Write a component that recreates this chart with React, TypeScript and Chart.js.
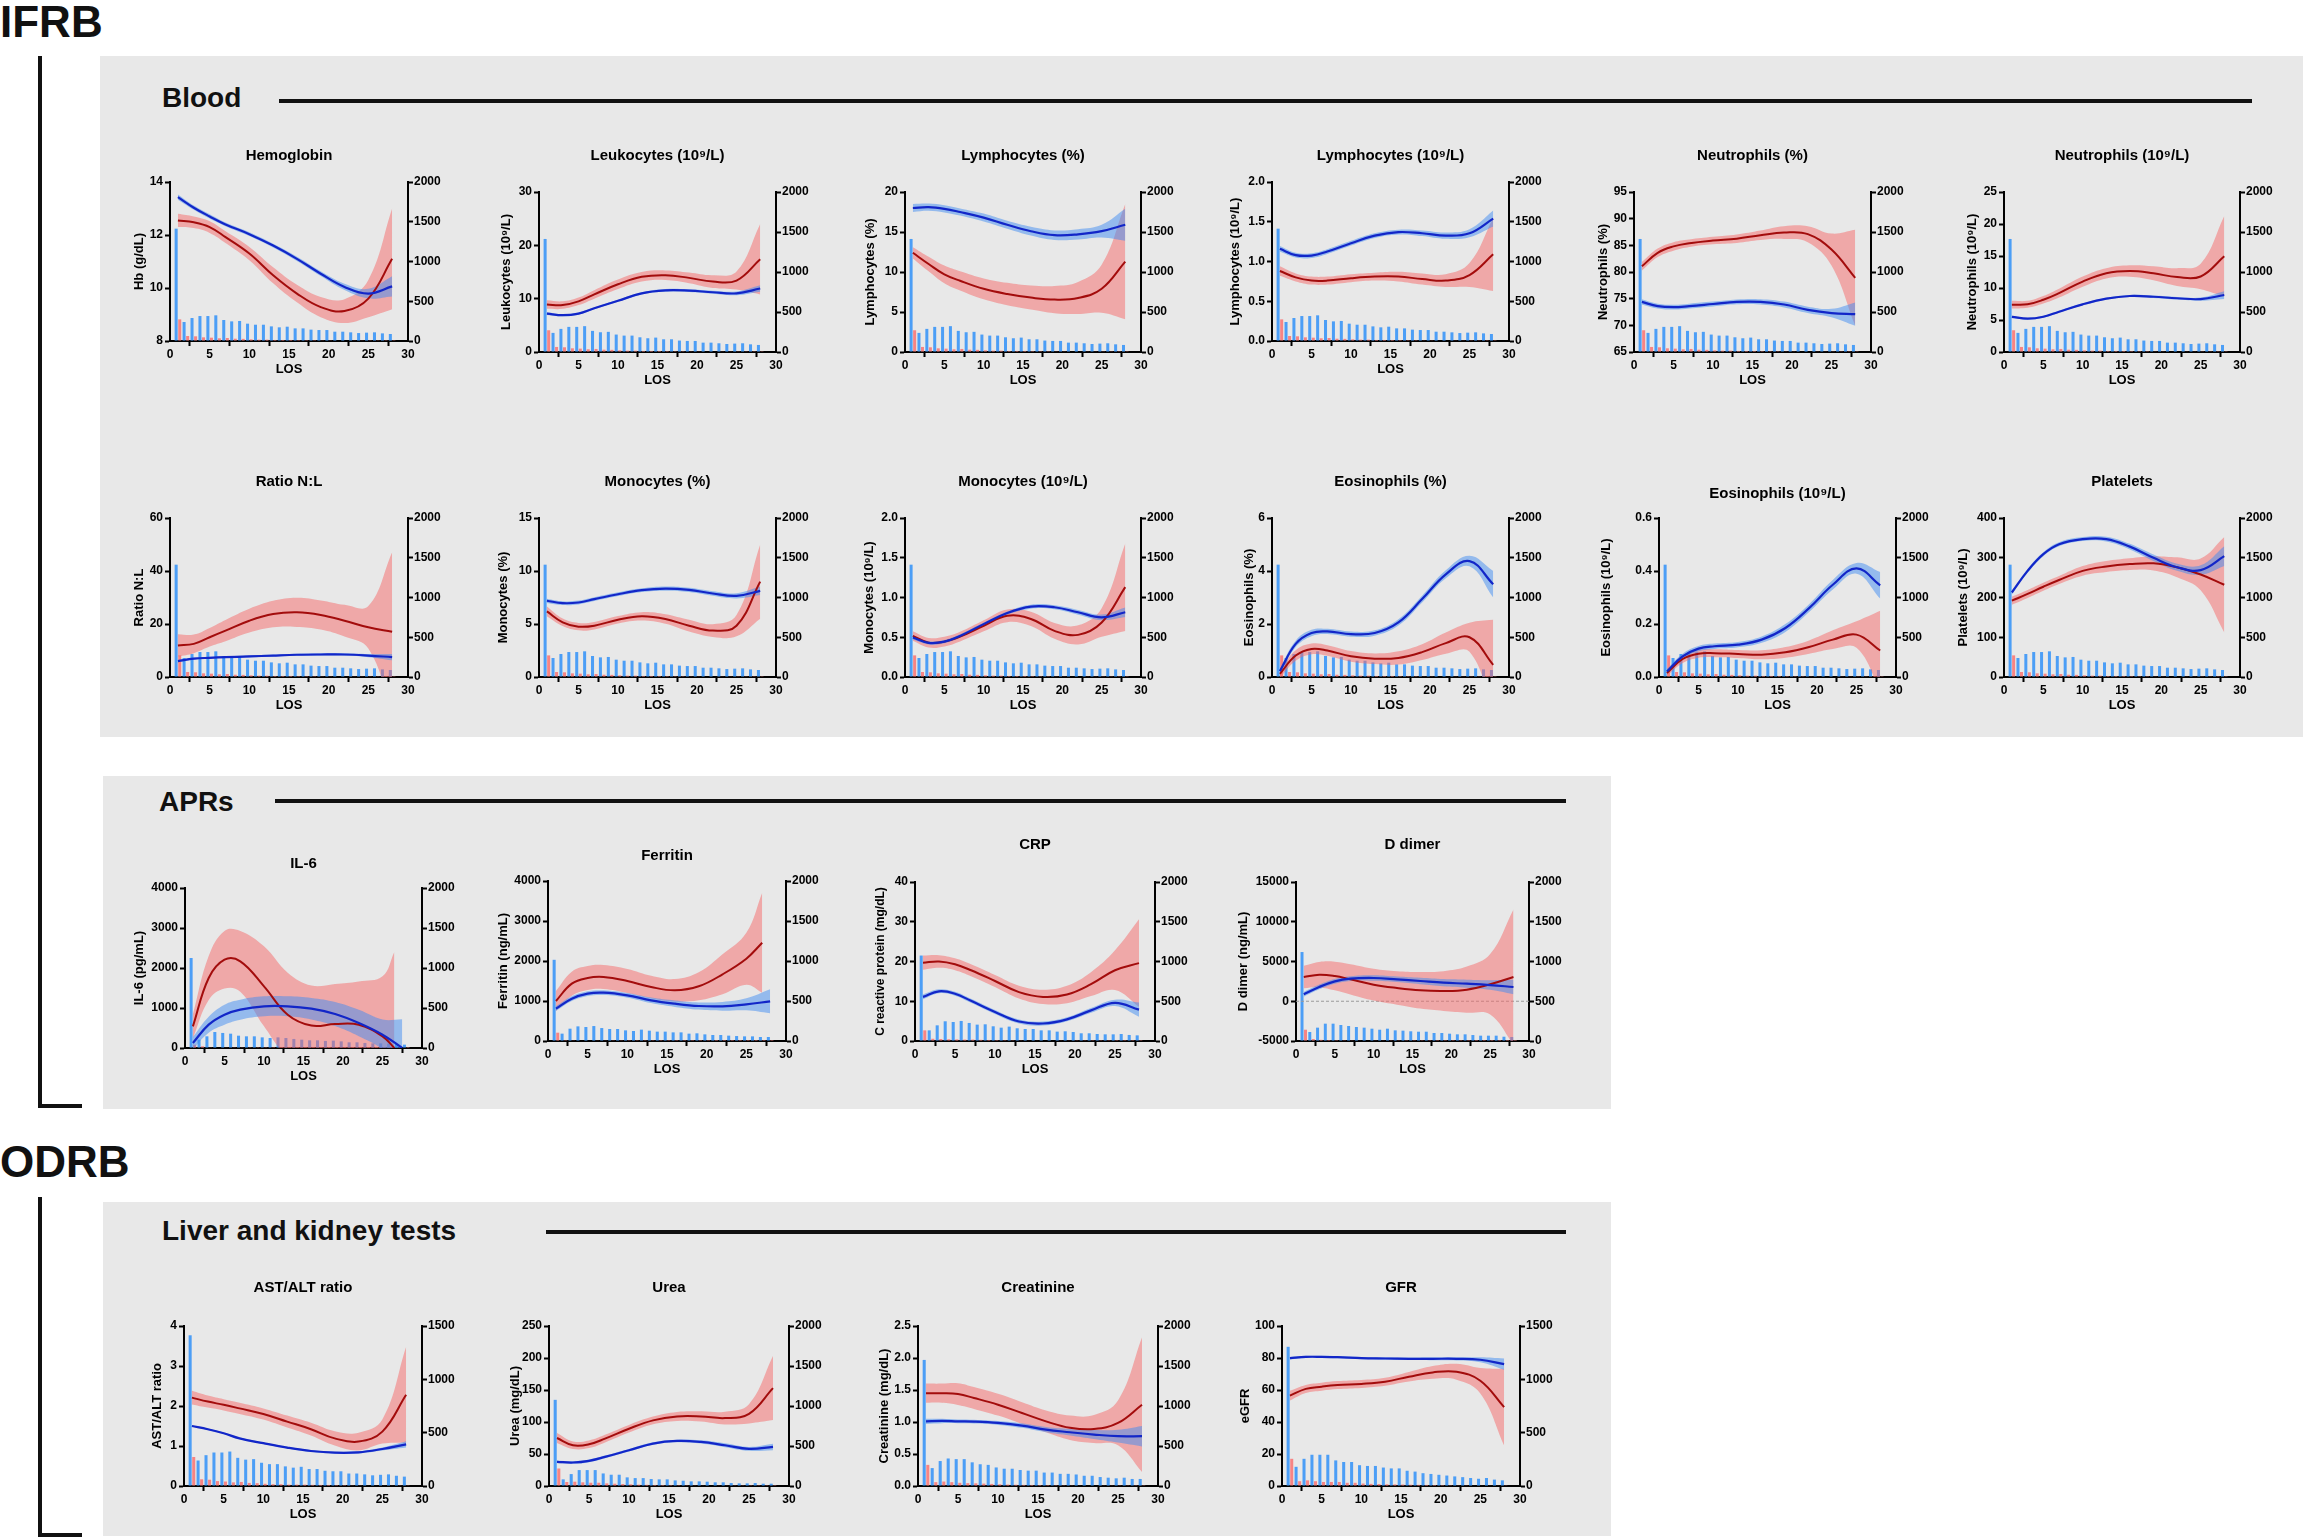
import { useEffect, useRef } from 'react'
import { Chart, registerables } from 'chart.js'

Chart.register(...registerables)

Chart.defaults.font.family = "'Liberation Sans', Arial, sans-serif"
Chart.defaults.font.weight = 'bold'
Chart.defaults.color = '#000'

// days of stay
const DAYS = [1, 3, 5, 7, 10, 13, 16, 19, 22, 25, 28]
const BAR_DAYS = [1, 2, 3, 4, 5, 6, 7, 8, 9, 10, 11, 12, 13, 14, 15, 16, 17, 18, 19, 20, 21, 22, 23, 24, 25, 26, 27, 28]
const IL6_RED_DAYS = [1, 3, 5, 7, 10, 13, 16, 19, 22, 25, 26.5]
const IL6_BLUE_DAYS = [1, 3, 5, 7, 10, 13, 16, 19, 22, 25, 27.5]
const FER_RED_DAYS = [1, 3, 5, 7, 10, 13, 16, 19, 22, 25, 27]

// patient counts per day (right axis)
const BLOOD_BLUE_N = [1413, 239, 289, 314, 314, 323, 264, 247, 252, 218, 205, 205, 184, 172, 180, 159, 159, 143, 138, 138, 117, 117, 109, 100, 105, 109, 96, 88]
const BLOOD_RED_N = [272, 63, 59, 46, 42, 34, 38, 29, 27, 21, 17, 17, 13, 13, 13, 11, 10, 10, 8, 8, 6, 6, 5, 5, 4, 4, 3, 3]
const IL6_BLUE_N = [1125, 104, 146, 200, 188, 179, 154, 146, 146, 133, 125, 133, 125, 113, 104, 96, 96, 88, 92, 83, 71, 71, 63, 58, 58, 55, 50, 42]
const IL6_RED_N = [42, 21, 8, 6, 5, 4, 4, 3, 3, 3, 2, 2, 2, 2, 2, 2, 2, 1, 1, 1, 1, 1, 1, 1, 1, 1, 1, 1]
const FER_BLUE_N = [1015, 92, 154, 183, 175, 187, 162, 150, 150, 133, 125, 142, 129, 117, 117, 108, 108, 92, 96, 83, 75, 75, 67, 62, 58, 58, 50, 50]
const FER_RED_N = [104, 10, 8, 6, 6, 5, 5, 4, 4, 3, 3, 3, 3, 2, 2, 2, 2, 2, 2, 2, 1, 1, 1, 1, 1, 1, 1, 1]
const CRP_BLUE_N = [1075, 134, 197, 248, 239, 252, 227, 206, 210, 185, 168, 181, 160, 151, 151, 134, 134, 118, 122, 113, 97, 97, 88, 84, 84, 88, 76, 71]
const CRP_RED_N = [134, 28, 25, 22, 20, 18, 18, 15, 13, 11, 10, 9, 8, 7, 7, 6, 6, 5, 5, 4, 4, 3, 3, 3, 2, 2, 2, 2]
const DDIM_BLUE_N = [1119, 113, 168, 218, 218, 201, 189, 176, 168, 155, 142, 155, 134, 130, 122, 117, 117, 101, 101, 92, 84, 84, 75, 67, 67, 67, 54, 50]
const DDIM_RED_N = [142, 25, 15, 12, 10, 9, 8, 7, 6, 5, 5, 4, 4, 3, 3, 3, 3, 2, 2, 2, 2, 2, 1, 1, 1, 1, 1, 1]
const UREA_BLUE_N = [1077, 83, 149, 199, 199, 199, 157, 141, 141, 108, 99, 99, 87, 83, 83, 70, 66, 58, 58, 54, 46, 46, 37, 33, 33, 37, 29, 29]
const UREA_RED_N = [219, 50, 54, 46, 41, 41, 33, 29, 25, 21, 17, 15, 13, 12, 11, 10, 9, 8, 7, 6, 5, 5, 4, 4, 3, 3, 3, 2]
const CREA_BLUE_N = [1576, 224, 312, 344, 336, 336, 296, 272, 264, 232, 216, 216, 200, 192, 192, 168, 168, 152, 152, 144, 128, 128, 112, 104, 96, 104, 88, 88]
const CREA_RED_N = [264, 48, 56, 48, 40, 36, 34, 30, 26, 22, 18, 16, 14, 13, 12, 11, 10, 9, 8, 7, 6, 6, 5, 5, 4, 4, 3, 3]
const GFR_BLUE_N = [1305, 180, 255, 293, 293, 293, 240, 225, 225, 195, 188, 188, 173, 165, 165, 143, 135, 120, 113, 105, 98, 90, 83, 75, 68, 75, 60, 53]
const GFR_RED_N = [255, 45, 53, 45, 38, 38, 38, 30, 30, 23, 20, 18, 16, 15, 14, 12, 11, 10, 9, 8, 7, 6, 6, 5, 5, 4, 4, 3]

// fitted curves (mean) and half-width of the confidence band
const HB_RED = [12.55, 12.48, 12.3, 11.92, 11.3, 10.48, 9.79, 9.28, 9.13, 9.6, 11.1]
const HB_RED_CI = [0.25, 0.22, 0.22, 0.22, 0.25, 0.3, 0.33, 0.38, 0.45, 0.7, 1.9]
const HB_BLUE = [13.43, 13.03, 12.7, 12.4, 12.03, 11.6, 11.1, 10.54, 10.04, 9.79, 10.06]
const HB_BLUE_CI = [0.1, 0.08, 0.08, 0.07, 0.07, 0.07, 0.08, 0.09, 0.12, 0.18, 0.38]

const LEUK_RED = [8.9, 8.8, 9.5, 10.8, 12.7, 14.1, 14.4, 13.9, 13.2, 13.4, 17.4]
const LEUK_RED_CI = [0.8, 0.7, 0.7, 0.8, 0.9, 0.9, 0.9, 1.0, 1.2, 1.7, 6.6]
const LEUK_BLUE = [7.2, 6.9, 7.2, 8.2, 9.6, 11.0, 11.55, 11.5, 11.2, 11.0, 11.9]
const LEUK_BLUE_CI = [0.25, 0.2, 0.2, 0.2, 0.2, 0.2, 0.25, 0.25, 0.3, 0.35, 0.6]

const LYMP_RED = [12.4, 11.0, 9.7, 8.9, 7.9, 7.25, 6.8, 6.55, 6.75, 7.9, 11.3]
const LYMP_RED_CI = [0.7, 0.9, 1.1, 1.2, 1.3, 1.4, 1.5, 1.7, 2.0, 3.0, 7.2]
const LYMP_BLUE = [18.0, 18.1, 17.9, 17.5, 16.8, 15.9, 15.1, 14.6, 14.7, 15.1, 15.9]
const LYMP_BLUE_CI = [0.5, 0.45, 0.45, 0.45, 0.5, 0.5, 0.55, 0.6, 0.65, 0.8, 2.0]

const LYMC_RED = [0.88, 0.8, 0.76, 0.76, 0.79, 0.81, 0.81, 0.78, 0.76, 0.83, 1.09]
const LYMC_RED_CI = [0.06, 0.05, 0.05, 0.05, 0.05, 0.05, 0.06, 0.07, 0.08, 0.15, 0.46]
const LYMC_BLUE = [1.16, 1.08, 1.075, 1.125, 1.23, 1.325, 1.37, 1.355, 1.325, 1.355, 1.54]
const LYMC_BLUE_CI = [0.035, 0.03, 0.03, 0.03, 0.03, 0.03, 0.03, 0.035, 0.04, 0.05, 0.1]

const NEUP_RED = [81.06, 83.6, 84.8, 85.4, 85.9, 86.25, 86.9, 87.4, 87.1, 84.2, 78.9]
const NEUP_RED_CI = [0.8, 0.8, 0.8, 0.7, 0.7, 0.8, 0.9, 1.2, 1.5, 3.0, 9.0]
const NEUP_BLUE = [74.4, 73.6, 73.4, 73.6, 74.0, 74.4, 74.4, 73.9, 72.9, 72.3, 72.1]
const NEUP_BLUE_CI = [0.5, 0.45, 0.45, 0.45, 0.45, 0.45, 0.5, 0.55, 0.6, 0.8, 2.2]

const NEUC_RED = [7.39, 7.45, 8.16, 9.2, 11.0, 12.3, 12.65, 12.3, 11.7, 11.8, 14.95]
const NEUC_RED_CI = [0.6, 0.55, 0.6, 0.7, 0.8, 0.8, 0.9, 1.1, 1.4, 2.0, 6.3]
const NEUC_BLUE = [5.5, 5.2, 5.5, 6.3, 7.45, 8.33, 8.75, 8.63, 8.4, 8.27, 8.9]
const NEUC_BLUE_CI = [0.18, 0.15, 0.15, 0.15, 0.15, 0.15, 0.17, 0.18, 0.2, 0.25, 0.6]

const RNL_RED = [11.9, 12.5, 15.0, 17.5, 21.25, 23.75, 24.4, 23.4, 21.25, 18.75, 17.1]
const RNL_RED_CI = [4.2, 3.5, 3.5, 4.0, 4.5, 5.0, 5.5, 5.5, 6.0, 8.0, 30]
const RNL_BLUE = [6.0, 6.9, 7.25, 7.5, 7.75, 8.1, 8.4, 8.5, 8.5, 8.1, 7.5]
const RNL_BLUE_CI = [0.4, 0.35, 0.35, 0.35, 0.35, 0.35, 0.4, 0.45, 0.5, 0.6, 1.2]

const MONP_RED = [6.19, 5.16, 4.75, 4.84, 5.4, 5.72, 5.47, 4.84, 4.38, 4.84, 9.0]
const MONP_RED_CI = [0.45, 0.35, 0.35, 0.35, 0.35, 0.4, 0.45, 0.55, 0.6, 1.0, 3.5]
const MONP_BLUE = [7.19, 6.97, 7.03, 7.34, 7.81, 8.19, 8.34, 8.22, 7.88, 7.66, 8.13]
const MONP_BLUE_CI = [0.2, 0.18, 0.18, 0.18, 0.18, 0.18, 0.2, 0.2, 0.22, 0.25, 0.4]

const MONC_RED = [0.517, 0.432, 0.445, 0.508, 0.644, 0.77, 0.73, 0.58, 0.53, 0.686, 1.13]
const MONC_RED_CI = [0.06, 0.06, 0.06, 0.06, 0.07, 0.08, 0.09, 0.1, 0.12, 0.18, 0.55]
const MONC_BLUE = [0.496, 0.43, 0.445, 0.517, 0.665, 0.805, 0.885, 0.877, 0.814, 0.75, 0.814]
const MONC_BLUE_CI = [0.025, 0.02, 0.02, 0.02, 0.02, 0.02, 0.025, 0.025, 0.03, 0.035, 0.06]

const EOSP_RED = [0.12, 0.81, 1.06, 1.0, 0.78, 0.69, 0.72, 0.94, 1.28, 1.5, 0.46]
const EOSP_RED_CI = [0.15, 0.2, 0.2, 0.2, 0.2, 0.2, 0.25, 0.3, 0.4, 0.55, 1.7]
const EOSP_BLUE = [0.22, 1.25, 1.66, 1.72, 1.62, 1.66, 2.06, 2.94, 3.875, 4.375, 3.5]
const EOSP_BLUE_CI = [0.1, 0.12, 0.12, 0.1, 0.1, 0.1, 0.12, 0.13, 0.15, 0.2, 0.5]

const EOSC_RED = [0.015, 0.068, 0.088, 0.09, 0.087, 0.084, 0.093, 0.113, 0.141, 0.16, 0.1]
const EOSC_RED_CI = [0.01, 0.015, 0.015, 0.015, 0.015, 0.017, 0.02, 0.025, 0.035, 0.05, 0.15]
const EOSC_BLUE = [0.021, 0.078, 0.107, 0.116, 0.122, 0.141, 0.185, 0.26, 0.348, 0.41, 0.346]
const EOSC_BLUE_CI = [0.01, 0.01, 0.01, 0.01, 0.01, 0.012, 0.015, 0.015, 0.018, 0.02, 0.05]

const PLT_RED = [192, 209, 227, 244, 267, 278, 284, 286, 276, 258, 232]
const PLT_RED_CI = [10, 10, 10, 10, 12, 14, 15, 18, 25, 40, 120]
const PLT_BLUE = [212.6, 267, 309, 334, 347, 347, 328, 300, 276, 269, 304]
const PLT_BLUE_CI = [5, 5, 5, 5, 5, 6, 7, 8, 9, 12, 25]

const IL6_RED = [542, 1750, 2208, 2167, 1542, 833, 560, 600, 583, 292, 0]
const IL6_RED_CI = [300, 550, 720, 760, 1000, 1050, 1000, 1000, 1080, 1500, 2400]
const IL6_BLUE = [125, 583, 833, 958, 1042, 1042, 983, 850, 625, 333, 0]
const IL6_BLUE_CI = [150, 200, 250, 250, 250, 250, 270, 300, 330, 380, 720]

const FER_RED = [1000, 1433, 1575, 1600, 1500, 1350, 1267, 1367, 1667, 2058, 2458]
const FER_RED_CI = [250, 300, 300, 300, 300, 280, 280, 350, 500, 650, 1250]
const FER_BLUE = [808, 1058, 1183, 1208, 1142, 1017, 933, 875, 867, 917, 992]
const FER_BLUE_CI = [60, 60, 60, 60, 60, 70, 80, 90, 110, 150, 300]

const CRP_RED = [19.7, 20.0, 19.3, 17.8, 15.1, 12.3, 11.1, 11.7, 14.3, 17.8, 19.6]
const CRP_RED_CI = [1.8, 1.6, 1.5, 1.5, 1.5, 1.6, 1.8, 2.2, 3.0, 5.0, 11]
const CRP_BLUE = [11.1, 12.5, 11.9, 10.1, 7.3, 4.9, 4.4, 5.45, 7.7, 9.6, 7.9]
const CRP_BLUE_CI = [0.6, 0.5, 0.5, 0.5, 0.5, 0.5, 0.5, 0.5, 0.6, 0.8, 1.8]

const DDIM_RED = [3050, 3344, 3176, 2757, 2086, 1667, 1373, 1289, 1457, 2128, 3050]
const DDIM_RED_CI = [1400, 1600, 1800, 1900, 2000, 2100, 2300, 2500, 2900, 3800, 8500]
const DDIM_BLUE = [870, 1800, 2500, 2840, 2925, 2760, 2550, 2340, 2210, 2040, 1790]
const DDIM_BLUE_CI = [300, 300, 300, 300, 350, 350, 400, 450, 500, 600, 900]

const AST_RED = [2.21, 2.11, 2.03, 1.94, 1.8, 1.61, 1.42, 1.19, 1.11, 1.36, 2.28]
const AST_RED_CI = [0.17, 0.15, 0.14, 0.14, 0.14, 0.15, 0.16, 0.18, 0.22, 0.3, 1.2]
const AST_BLUE = [1.5, 1.42, 1.32, 1.19, 1.07, 0.96, 0.875, 0.833, 0.842, 0.925, 1.04]
const AST_BLUE_CI = [0.02, 0.02, 0.02, 0.02, 0.02, 0.02, 0.025, 0.025, 0.03, 0.04, 0.08]

const UREA_RED = [75, 63.7, 65.2, 74, 89.5, 102.5, 108.7, 108.7, 106.1, 112.8, 153]
const UREA_RED_CI = [8, 6, 6, 6, 6, 6, 7, 8, 10, 15, 50]
const UREA_BLUE = [37.8, 36.7, 39.3, 45.5, 55.9, 66.3, 70.4, 68.8, 63.7, 58, 61]
const UREA_BLUE_CI = [2, 2, 2, 2, 2, 2, 2, 2.5, 3, 3, 5]

const CREA_RED = [1.45, 1.45, 1.437, 1.375, 1.27, 1.14, 1.01, 0.91, 0.89, 0.985, 1.27]
const CREA_RED_CI = [0.15, 0.15, 0.17, 0.17, 0.17, 0.17, 0.17, 0.19, 0.22, 0.35, 1.05]
const CREA_BLUE = [1.01, 1.017, 1.01, 1.006, 0.985, 0.944, 0.88, 0.84, 0.804, 0.778, 0.778]
const CREA_BLUE_CI = [0.04, 0.035, 0.03, 0.03, 0.03, 0.035, 0.04, 0.05, 0.07, 0.1, 0.16]

const GFR_RED = [56.5, 60.7, 62.1, 63.1, 63.8, 65.2, 68.3, 71, 71.4, 65.8, 49.3]
const GFR_RED_CI = [3, 2.5, 2.5, 2.5, 2.5, 2.5, 3, 4, 5, 8, 24]
const GFR_BLUE = [79.9, 80.7, 80.7, 80.5, 79.9, 79.7, 79.5, 79.5, 79.5, 78.9, 76.2]
const GFR_BLUE_CI = [0.8, 0.7, 0.7, 0.7, 0.7, 0.8, 0.8, 0.9, 1.0, 1.5, 3.5]

const BLUE_BAR = '#4c9ef6'
const RED_BAR = '#f78484'
const RED_LINE = '#a30c0c'
const BLUE_LINE = '#1226c8'
const RED_BAND = 'rgba(246, 104, 104, 0.5)'
const BLUE_BAND = 'rgba(64, 140, 242, 0.5)'
const PANEL = '#e8e8e8'

// space around each plot area for axes and title
const PAD_L = 70
const PAD_R = 55
const PAD_T = 50
const PAD_B = 45

interface Spec {
  title: string
  yTitle: string
  L: number
  T: number
  R: number
  B: number
  tg: number
  yt: number
  ys?: number
  yMin: number
  yMax: number
  yStep: number
  dec: number
  rMax: number
  redX: number[]
  red: number[]
  redCi: number[]
  blueX: number[]
  blue: number[]
  blueCi: number[]
  blueN: number[]
  redN: number[]
  zero?: boolean
}

const SPECS: Spec[] = [
  // Blood, row 1
  { title: 'Hemoglobin', yTitle: 'Hb (g/dL)', L: 170, T: 182, R: 408, B: 341, tg: 26, yt: 30, yMin: 8, yMax: 14, yStep: 2, dec: 0, rMax: 2000,
    redX: DAYS, red: HB_RED, redCi: HB_RED_CI, blueX: DAYS, blue: HB_BLUE, blueCi: HB_BLUE_CI, blueN: BLOOD_BLUE_N, redN: BLOOD_RED_N },
  { title: 'Leukocytes (10⁹/L)', yTitle: 'Leukocytes (10⁹/L)', L: 539, T: 192, R: 776, B: 352, tg: 36, yt: 32, yMin: 0, yMax: 30, yStep: 10, dec: 0, rMax: 2000,
    redX: DAYS, red: LEUK_RED, redCi: LEUK_RED_CI, blueX: DAYS, blue: LEUK_BLUE, blueCi: LEUK_BLUE_CI, blueN: BLOOD_BLUE_N, redN: BLOOD_RED_N },
  { title: 'Lymphocytes (%)', yTitle: 'Lymphocytes (%)', L: 905, T: 192, R: 1141, B: 352, tg: 36, yt: 34, yMin: 0, yMax: 20, yStep: 5, dec: 0, rMax: 2000,
    redX: DAYS, red: LYMP_RED, redCi: LYMP_RED_CI, blueX: DAYS, blue: LYMP_BLUE, blueCi: LYMP_BLUE_CI, blueN: BLOOD_BLUE_N, redN: BLOOD_RED_N },
  { title: 'Lymphocytes (10⁹/L)', yTitle: 'Lymphocytes (10⁹/L)', L: 1272, T: 182, R: 1509, B: 341, tg: 26, yt: 36, yMin: 0, yMax: 2, yStep: 0.5, dec: 1, rMax: 2000,
    redX: DAYS, red: LYMC_RED, redCi: LYMC_RED_CI, blueX: DAYS, blue: LYMC_BLUE, blueCi: LYMC_BLUE_CI, blueN: BLOOD_BLUE_N, redN: BLOOD_RED_N },
  { title: 'Neutrophils (%)', yTitle: 'Neutrophils (%)', L: 1634, T: 192, R: 1871, B: 352, tg: 36, yt: 30, yMin: 65, yMax: 95, yStep: 5, dec: 0, rMax: 2000,
    redX: DAYS, red: NEUP_RED, redCi: NEUP_RED_CI, blueX: DAYS, blue: NEUP_BLUE, blueCi: NEUP_BLUE_CI, blueN: BLOOD_BLUE_N, redN: BLOOD_RED_N },
  { title: 'Neutrophils (10⁹/L)', yTitle: 'Neutrophils (10⁹/L)', L: 2004, T: 192, R: 2240, B: 352, tg: 36, yt: 31, yMin: 0, yMax: 25, yStep: 5, dec: 0, rMax: 2000,
    redX: DAYS, red: NEUC_RED, redCi: NEUC_RED_CI, blueX: DAYS, blue: NEUC_BLUE, blueCi: NEUC_BLUE_CI, blueN: BLOOD_BLUE_N, redN: BLOOD_RED_N },
  // Blood, row 2
  { title: 'Ratio N:L', yTitle: 'Ratio N:L', L: 170, T: 518, R: 408, B: 677, tg: 36, yt: 30, yMin: 0, yMax: 60, yStep: 20, dec: 0, rMax: 2000,
    redX: DAYS, red: RNL_RED, redCi: RNL_RED_CI, blueX: DAYS, blue: RNL_BLUE, blueCi: RNL_BLUE_CI, blueN: BLOOD_BLUE_N, redN: BLOOD_RED_N },
  { title: 'Monocytes (%)', yTitle: 'Monocytes (%)', L: 539, T: 518, R: 776, B: 677, tg: 36, yt: 35, yMin: 0, yMax: 15, yStep: 5, dec: 0, rMax: 2000,
    redX: DAYS, red: MONP_RED, redCi: MONP_RED_CI, blueX: DAYS, blue: MONP_BLUE, blueCi: MONP_BLUE_CI, blueN: BLOOD_BLUE_N, redN: BLOOD_RED_N },
  { title: 'Monocytes (10⁹/L)', yTitle: 'Monocytes (10⁹/L)', L: 905, T: 518, R: 1141, B: 677, tg: 36, yt: 35, yMin: 0, yMax: 2, yStep: 0.5, dec: 1, rMax: 2000,
    redX: DAYS, red: MONC_RED, redCi: MONC_RED_CI, blueX: DAYS, blue: MONC_BLUE, blueCi: MONC_BLUE_CI, blueN: BLOOD_BLUE_N, redN: BLOOD_RED_N },
  { title: 'Eosinophils (%)', yTitle: 'Eosinophils (%)', L: 1272, T: 518, R: 1509, B: 677, tg: 36, yt: 22, yMin: 0, yMax: 6, yStep: 2, dec: 0, rMax: 2000,
    redX: DAYS, red: EOSP_RED, redCi: EOSP_RED_CI, blueX: DAYS, blue: EOSP_BLUE, blueCi: EOSP_BLUE_CI, blueN: BLOOD_BLUE_N, redN: BLOOD_RED_N },
  { title: 'Eosinophils (10⁹/L)', yTitle: 'Eosinophils (10⁹/L)', L: 1659, T: 518, R: 1896, B: 677, tg: 24, yt: 52, yMin: 0, yMax: 0.6, yStep: 0.2, dec: 1, rMax: 2000,
    redX: DAYS, red: EOSC_RED, redCi: EOSC_RED_CI, blueX: DAYS, blue: EOSC_BLUE, blueCi: EOSC_BLUE_CI, blueN: BLOOD_BLUE_N, redN: BLOOD_RED_N },
  { title: 'Platelets', yTitle: 'Platelets (10⁹/L)', L: 2004, T: 518, R: 2240, B: 677, tg: 36, yt: 40, yMin: 0, yMax: 400, yStep: 100, dec: 0, rMax: 2000,
    redX: DAYS, red: PLT_RED, redCi: PLT_RED_CI, blueX: DAYS, blue: PLT_BLUE, blueCi: PLT_BLUE_CI, blueN: BLOOD_BLUE_N, redN: BLOOD_RED_N },
  // APRs
  { title: 'IL-6', yTitle: 'IL-6 (pg/mL)', L: 185, T: 888, R: 422, B: 1048, tg: 24, yt: 45, yMin: 0, yMax: 4000, yStep: 1000, dec: 0, rMax: 2000,
    redX: IL6_RED_DAYS, red: IL6_RED, redCi: IL6_RED_CI, blueX: IL6_BLUE_DAYS, blue: IL6_BLUE, blueCi: IL6_BLUE_CI, blueN: IL6_BLUE_N, redN: IL6_RED_N },
  { title: 'Ferritin', yTitle: 'Ferritin (ng/mL)', L: 548, T: 881, R: 786, B: 1041, tg: 25, yt: 44, yMin: 0, yMax: 4000, yStep: 1000, dec: 0, rMax: 2000,
    redX: FER_RED_DAYS, red: FER_RED, redCi: FER_RED_CI, blueX: DAYS, blue: FER_BLUE, blueCi: FER_BLUE_CI, blueN: FER_BLUE_N, redN: FER_RED_N },
  { title: 'CRP', yTitle: 'C reactive protein (mg/dL)', ys: 12, L: 915, T: 882, R: 1155, B: 1041, tg: 37, yt: 34, yMin: 0, yMax: 40, yStep: 10, dec: 0, rMax: 2000,
    redX: DAYS, red: CRP_RED, redCi: CRP_RED_CI, blueX: DAYS, blue: CRP_BLUE, blueCi: CRP_BLUE_CI, blueN: CRP_BLUE_N, redN: CRP_RED_N },
  { title: 'D dimer', yTitle: 'D dimer (ng/mL)', L: 1296, T: 882, R: 1529, B: 1041, tg: 37, yt: 52, yMin: -5000, yMax: 15000, yStep: 5000, dec: 0, rMax: 2000,
    redX: DAYS, red: DDIM_RED, redCi: DDIM_RED_CI, blueX: DAYS, blue: DDIM_BLUE, blueCi: DDIM_BLUE_CI, blueN: DDIM_BLUE_N, redN: DDIM_RED_N, zero: true },
  // Liver and kidney tests
  { title: 'AST/ALT ratio', yTitle: 'AST/ALT ratio', L: 184, T: 1326, R: 422, B: 1486, tg: 38, yt: 26, yMin: 0, yMax: 4, yStep: 1, dec: 0, rMax: 1500,
    redX: DAYS, red: AST_RED, redCi: AST_RED_CI, blueX: DAYS, blue: AST_BLUE, blueCi: AST_BLUE_CI, blueN: BLOOD_BLUE_N, redN: BLOOD_RED_N },
  { title: 'Urea', yTitle: 'Urea (mg/dL)', L: 549, T: 1326, R: 789, B: 1486, tg: 38, yt: 33, yMin: 0, yMax: 250, yStep: 50, dec: 0, rMax: 2000,
    redX: DAYS, red: UREA_RED, redCi: UREA_RED_CI, blueX: DAYS, blue: UREA_BLUE, blueCi: UREA_BLUE_CI, blueN: UREA_BLUE_N, redN: UREA_RED_N },
  { title: 'Creatinine', yTitle: 'Creatinine (mg/dL)', L: 918, T: 1326, R: 1158, B: 1486, tg: 38, yt: 33, yMin: 0, yMax: 2.5, yStep: 0.5, dec: 1, rMax: 2000,
    redX: DAYS, red: CREA_RED, redCi: CREA_RED_CI, blueX: DAYS, blue: CREA_BLUE, blueCi: CREA_BLUE_CI, blueN: CREA_BLUE_N, redN: CREA_RED_N },
  { title: 'GFR', yTitle: 'eGFR', L: 1282, T: 1326, R: 1520, B: 1486, tg: 38, yt: 36, yMin: 0, yMax: 100, yStep: 20, dec: 0, rMax: 1500,
    redX: DAYS, red: GFR_RED, redCi: GFR_RED_CI, blueX: DAYS, blue: GFR_BLUE, blueCi: GFR_BLUE_CI, blueN: GFR_BLUE_N, redN: GFR_RED_N },
]

const pts = (xs: number[], ys: number[]) => xs.map((x, i) => ({ x, y: ys[i] }))
const shift = (ys: number[], ci: number[], sign: number) => ys.map((v, i) => v + sign * ci[i])

const band = (label: string, data: any, color: string | false, order: number) => ({
  type: 'line' as const,
  label,
  data,
  yAxisID: 'y',
  fill: color ? '+1' : false,
  backgroundColor: color || 'transparent',
  borderColor: 'transparent',
  borderWidth: 0,
  pointRadius: 0,
  tension: 0.4,
  order,
})

function MiniChart({ s }: { s: Spec }) {
  const canvasRef = useRef<HTMLCanvasElement>(null)
  const w = s.R - s.L + PAD_L + PAD_R
  const h = s.B - s.T + PAD_T + PAD_B

  useEffect(() => {
    if (!canvasRef.current) return
    const axisLine = { display: true, color: '#000', width: 2 }
    const tickGrid = { display: true, drawOnChartArea: false, drawTicks: true, tickLength: 5, tickColor: '#000', tickWidth: 2 }
    const tickFont = { size: 12, weight: 'bold' as const }

    const datasets: any[] = [
      { type: 'bar', label: 'n blue', data: pts(BAR_DAYS, s.blueN), yAxisID: 'y2', backgroundColor: BLUE_BAR, categoryPercentage: 0.9, barPercentage: 0.85, order: 6 },
      { type: 'bar', label: 'n red', data: pts(BAR_DAYS, s.redN), yAxisID: 'y2', backgroundColor: RED_BAR, categoryPercentage: 0.9, barPercentage: 0.85, order: 6 },
      band('red hi', pts(s.redX, shift(s.red, s.redCi, 1)), RED_BAND, 4),
      band('red lo', pts(s.redX, shift(s.red, s.redCi, -1)), false, 4),
      band('blue hi', pts(s.blueX, shift(s.blue, s.blueCi, 1)), BLUE_BAND, 3),
      band('blue lo', pts(s.blueX, shift(s.blue, s.blueCi, -1)), false, 3),
      { type: 'line', label: 'red', data: pts(s.redX, s.red), yAxisID: 'y', borderColor: RED_LINE, borderWidth: 2, pointRadius: 0, tension: 0.4, fill: false, order: 1 },
      { type: 'line', label: 'blue', data: pts(s.blueX, s.blue), yAxisID: 'y', borderColor: BLUE_LINE, borderWidth: 2.2, pointRadius: 0, tension: 0.4, fill: false, order: 0 },
    ]
    if (s.zero) {
      datasets.push({ type: 'line', label: 'zero', data: pts([0, 30], [0, 0]), yAxisID: 'y', borderColor: '#9a9a9a', borderWidth: 1, borderDash: [3, 2], pointRadius: 0, fill: false, order: 5 })
    }

    const chart = new Chart(canvasRef.current, {
      type: 'line',
      data: { datasets },
      options: {
        animation: false,
        responsive: false,
        layout: { padding: 0 },
        plugins: {
          legend: { display: false },
          tooltip: { enabled: false },
          title: {
            display: true,
            text: s.title,
            fullSize: false,
            color: '#000',
            font: { size: 15, weight: 'bold', lineHeight: 1.2 },
            padding: { top: PAD_T - s.tg - 9, bottom: s.tg - 9 },
          },
        },
        scales: {
          x: {
            type: 'linear',
            position: 'bottom',
            min: 0,
            max: 30,
            offset: false,
            ticks: { stepSize: 5, padding: 1, font: tickFont, color: '#000', maxRotation: 0, autoSkip: false },
            grid: tickGrid,
            border: axisLine,
            title: { display: true, text: 'LOS', color: '#000', font: { size: 13, weight: 'bold' }, padding: { top: 0, bottom: 9 } },
            afterFit: (sc: any) => { sc.height = PAD_B },
          },
          y: {
            type: 'linear',
            position: 'left',
            min: s.yMin,
            max: s.yMax,
            ticks: { stepSize: s.yStep, padding: 2, font: tickFont, color: '#000', callback: (v: any) => Number(v).toFixed(s.dec) },
            grid: tickGrid,
            border: axisLine,
            title: { display: true, text: s.yTitle, color: '#000', font: { size: s.ys || 13, weight: 'bold' }, padding: { top: PAD_L - s.yt - 8, bottom: 0 } },
            afterFit: (sc: any) => { sc.width = PAD_L },
          },
          y2: {
            type: 'linear',
            position: 'right',
            min: 0,
            max: s.rMax,
            ticks: { stepSize: 500, padding: 1, font: tickFont, color: '#000', callback: (v: any) => String(v) },
            grid: tickGrid,
            border: axisLine,
            afterFit: (sc: any) => { sc.width = PAD_R },
          },
        },
      },
    })

    return () => { chart.destroy() }
  }, [s])

  return (
    <canvas
      ref={canvasRef}
      width={w}
      height={h}
      style={{ position: 'absolute', left: s.L - PAD_L, top: s.T - PAD_T, width: w, height: h }}
    />
  )
}

const FONT = "'Liberation Sans', Arial, sans-serif"

function Label({ text, left, top, size }: { text: string; left: number; top: number; size: number }) {
  return (
    <div style={{ position: 'absolute', left, top, fontFamily: FONT, fontWeight: 'bold', fontSize: size, lineHeight: 1, whiteSpace: 'nowrap', color: '#111' }}>
      {text}
    </div>
  )
}

function Rule({ left, top, width, height }: { left: number; top: number; width: number; height: number }) {
  return <div style={{ position: 'absolute', left, top, width, height, background: '#111' }} />
}

function Panel({ left, top, width, height }: { left: number; top: number; width: number; height: number }) {
  return <div style={{ position: 'absolute', left, top, width, height, background: PANEL }} />
}

export default function App() {
  return (
    <div style={{ position: 'absolute', left: 0, top: 0, width: 2303, height: 1538, background: '#fff', overflow: 'hidden' }}>
      <Panel left={100} top={56} width={2203} height={681} />
      <Panel left={103} top={776} width={1508} height={333} />
      <Panel left={103} top={1202} width={1508} height={334} />

      <Label text="IFRB" left={0} top={0} size={44} />
      <Rule left={38} top={56} width={4} height={1052} />
      <Rule left={38} top={1104} width={44} height={4} />

      <Label text="ODRB" left={0} top={1140} size={44} />
      <Rule left={38} top={1197} width={4} height={340} />
      <Rule left={38} top={1533} width={44} height={4} />

      <Label text="Blood" left={162} top={84} size={28} />
      <Rule left={279} top={99} width={1973} height={4} />
      <Label text="APRs" left={159} top={788} size={28} />
      <Rule left={275} top={799} width={1291} height={4} />
      <Label text="Liver and kidney tests" left={162} top={1217} size={28} />
      <Rule left={546} top={1230} width={1020} height={4} />

      {SPECS.map((s) => <MiniChart key={s.title} s={s} />)}
    </div>
  )
}
